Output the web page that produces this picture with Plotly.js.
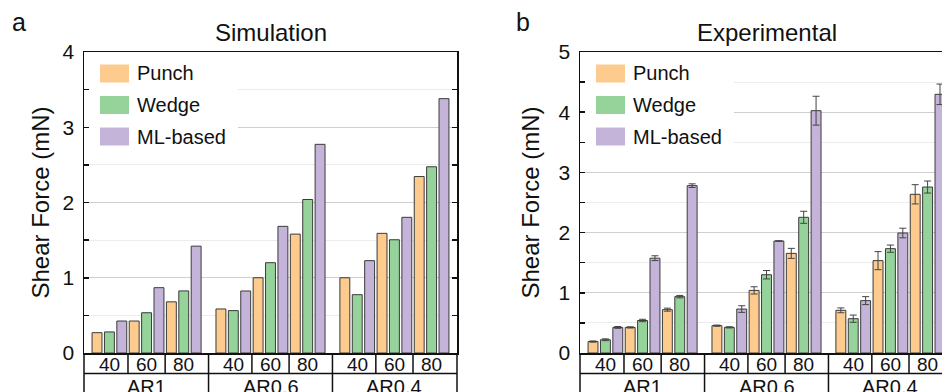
<!DOCTYPE html>
<html><head><meta charset="utf-8">
<script src="https://cdn.plot.ly/plotly-3.0.1.min.js"></script>
<style>html,body{margin:0;padding:0;overflow:hidden;background:#fff}#chart{width:990px;height:392px}</style>
</head><body><div id="chart"></div>
<script>
// ---- data ----
const arGroups = ['AR1', 'AR0.6', 'AR0.4'];
const angles = ['40', '60', '80'];
const seriesNames = ['Punch', 'Wedge', 'ML-based'];
const panelTitles = ['Simulation', 'Experimental'];
const panelLetters = ['a', 'b'];
const yTitle = 'Shear Force (mN)';

// values ordered AR1(40,60,80), AR0.6(40,60,80), AR0.4(40,60,80)
const simPunch = [0.27, 0.425, 0.68, 0.585, 1.0, 1.58, 1.0, 1.59, 2.345];
const simWedge = [0.28, 0.535, 0.825, 0.563, 1.2, 2.04, 0.775, 1.505, 2.475];
const simML    = [0.425, 0.868, 1.42, 0.824, 1.683, 2.773, 1.227, 1.803, 3.38];

const expPunch = [0.19, 0.425, 0.72, 0.454, 1.04, 1.655, 0.709, 1.534, 2.636];
const expWedge = [0.22, 0.54, 0.936, 0.426, 1.30, 2.254, 0.57, 1.733, 2.757];
const expML    = [0.425, 1.575, 2.78, 0.73, 1.86, 4.025, 0.87, 1.993, 4.297];

const expPunchErr = [0.01, 0.01, 0.025, 0.01, 0.06, 0.083, 0.04, 0.15, 0.16];
const expWedgeErr = [0.015, 0.02, 0.02, 0.01, 0.07, 0.10, 0.06, 0.06, 0.10];
const expMLErr    = [0.015, 0.04, 0.03, 0.055, 0.005, 0.24, 0.066, 0.08, 0.17];

// ---- style ----
const FONT = 'Liberation Sans, Arial, Helvetica, sans-serif';
const colors = ['#FECB8F', '#95D39B', '#C5B4DA'];
const XR = [-1.05, 29.05];
const pos = (a, g, s) => a * 10 + g * 3 + s;
const xFrac = x => (x - XR[0]) / (XR[1] - XR[0]);

const panels = [
  {vals: [simPunch, simWedge, simML], errs: null, yr: [0, 4], xa: 'x', ya: 'y'},
  {vals: [expPunch, expWedge, expML], errs: [expPunchErr, expWedgeErr, expMLErr], yr: [0, 5], xa: 'x2', ya: 'y2'}
];

const traces = [];
const shapes = [];
const annotations = [];
const PW = 373, PH = 301; // plot area px
const fx = px => px / PW;          // px offset from left of plot area -> domain fraction
const fy = py => (301 - py) / PH;  // px from top of plot area -> domain fraction

panels.forEach((p, pi) => {
  const xd = p.xa + ' domain', yd = p.ya + ' domain';
  seriesNames.forEach((name, s) => {
    const xs = [], ys = [];
    arGroups.forEach((ar, a) => angles.forEach((ang, g) => {
      xs.push(pos(a, g, s));
      ys.push(p.vals[s][a * 3 + g]);
    }));
    const t = {
      type: 'bar', x: xs, y: ys, name: name, width: 0.8,
      xaxis: p.xa, yaxis: p.ya, showlegend: false,
      marker: {color: colors[s], line: {color: '#3a3a3a', width: 1}}
    };
    if (p.errs) t.error_y = {type: 'data', array: p.errs[s], visible: true, color: '#444', thickness: 1, width: 3.5};
    traces.push(t);
  });

  // white box behind legend (hides gridlines), in axis units
  const xSpan = XR[1] - XR[0], ySpan = p.yr[1] - p.yr[0];
  shapes.push({type: 'rect', xref: p.xa, yref: p.ya,
    x0: XR[0], x1: XR[0] + fx(154) * xSpan, y0: p.yr[0] + fy(100) * ySpan, y1: p.yr[1],
    fillcolor: '#fff', line: {width: 0}, layer: 'between'});
  // legend swatches + labels
  seriesNames.forEach((name, s) => {
    const cy = 21.5 + s * 31.5;
    shapes.push({type: 'rect', xref: xd, yref: yd, x0: fx(16), x1: fx(45), y0: fy(cy + 9), y1: fy(cy - 9),
      fillcolor: colors[s], line: {width: 0}, layer: 'above'});
    annotations.push({xref: xd, yref: yd, x: fx(51), y: fy(cy), xanchor: 'left', yanchor: 'middle',
      text: name, showarrow: false, font: {size: 20, family: FONT, color: '#111'}});
  });

  // category table below the axis
  const yRow1 = fy(321.5), yBot = -0.25;
  const ln = {color: '#111', width: 1.5};
  shapes.push({type: 'line', xref: xd, yref: yd, x0: 0, x1: 1, y0: yRow1, y1: yRow1, line: ln});
  shapes.push({type: 'line', xref: xd, yref: yd, x0: 0, x1: 0, y0: yBot, y1: 0, line: ln});
  shapes.push({type: 'line', xref: xd, yref: yd, x0: 1, x1: 1, y0: yBot, y1: 0, line: ln});
  arGroups.forEach((ar, a) => {
    if (a > 0) {
      const xb = xFrac(a * 10 - 1);
      shapes.push({type: 'line', xref: xd, yref: yd, x0: xb, x1: xb, y0: yBot, y1: 0, line: ln});
    }
    angles.forEach((ang, g) => {
      if (g > 0) {
        const xb = xFrac(a * 10 + g * 3 - 0.5);
        shapes.push({type: 'line', xref: xd, yref: yd, x0: xb, x1: xb, y0: yRow1, y1: 0, line: ln});
      }
      annotations.push({xref: p.xa, yref: yd, x: pos(a, g, 1), y: fy(312.5), xanchor: 'center', yanchor: 'middle',
        text: ang, showarrow: false, font: {size: 19, family: FONT, color: '#111'}});
    });
    annotations.push({xref: p.xa, yref: yd, x: a * 10 + 4, y: fy(335), xanchor: 'center', yanchor: 'middle',
      text: ar, showarrow: false, font: {size: 20, family: FONT, color: '#111'}});
  });

  // panel title and letter
  annotations.push({xref: xd, yref: yd, x: 0.5, y: fy(-19), xanchor: 'center', yanchor: 'middle',
    text: panelTitles[pi], showarrow: false, font: {size: 24, family: FONT, color: '#111'}});
  annotations.push({xref: xd, yref: yd, x: fx(pi === 0 ? -74 : -66), y: fy(-30), xanchor: 'left', yanchor: 'middle',
    text: panelLetters[pi], showarrow: false, font: {size: 25, family: FONT, color: '#111'}});
});

function yAxis(range, anchor, standoff) {
  return {
    range: range, anchor: anchor, dtick: 1, tick0: 0,
    ticks: 'inside', ticklen: 5, tickwidth: 1.5, tickcolor: '#111',
    showline: true, linecolor: '#111', linewidth: 1.5, mirror: 'ticks',
    showgrid: true, gridcolor: '#cfcfcf', gridwidth: 1.2, zeroline: false,
    tickfont: {size: 21, family: FONT, color: '#111'}, ticklabelstandoff: 4,
    minor: {dtick: 0.5, ticks: 'inside', ticklen: 5, tickwidth: 1.5, tickcolor: '#111',
            showgrid: true, gridcolor: '#ececec', gridwidth: 1.2},
    title: {text: yTitle, font: {size: 24, family: FONT, color: '#111'}, standoff: standoff}
  };
}
function xAxis(domain, anchor) {
  return {domain: domain, anchor: anchor, range: XR, showgrid: false, zeroline: false,
    showticklabels: false, ticks: '', showline: true, linecolor: '#111', linewidth: 1.5, mirror: true};
}

const W = 990;
const layout = {
  width: W, height: 392,
  margin: {l: 84, r: W - 953, t: 52, b: 39},
  paper_bgcolor: '#fff', plot_bgcolor: '#fff',
  barmode: 'overlay',
  font: {family: FONT, color: '#111'},
  xaxis: xAxis([0, 373 / (W - 84 - 37)], 'y'),
  xaxis2: xAxis([(580 - 84) / (W - 84 - 37), 1], 'y2'),
  yaxis: yAxis([0, 4], 'x', 6),
  yaxis2: yAxis([0, 5], 'x2', 12),
  shapes: shapes,
  annotations: annotations
};

Plotly.newPlot('chart', traces, layout, {staticPlot: true, displayModeBar: false});
</script>
</body></html>
